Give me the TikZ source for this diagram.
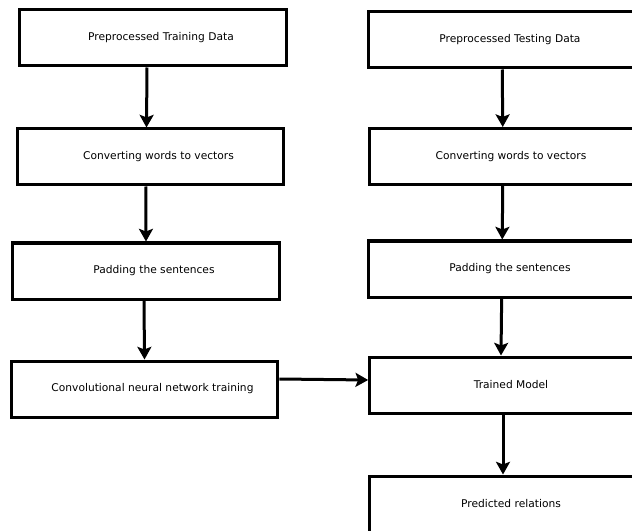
\documentclass[tikz,border=0pt]{standalone}
\usepackage{fontspec}
\setmainfont{DejaVu Sans}
\usetikzlibrary{arrows.meta, positioning}
\tikzset{stage/.style={draw, line width=2.25pt, minimum width=200pt, minimum height=42pt, inner sep=0pt, font=\fontsize{8pt}{9.6pt}\selectfont, execute at begin node={\hspace*{12pt}}}}
\tikzset{flow/.style={line width=2.25pt, -{Stealth[length=9.5pt, width=10.5pt, inset=2pt]}}}

\begin{document}
\begin{tikzpicture}[x=0.75pt, y=-0.75pt]
\useasboundingbox (0,0) rectangle (632,531);
\clip (0,0) rectangle (632,531);
% training side
\node[stage] (trainingdata) at (153,38) {Preprocessed Training Data};
\node[stage] (trainvectors) at (150.5,157) {Converting words to vectors};
\node[stage] (trainpadding) at (146,271) {Padding the sentences};
\node[stage] (cnntraining) at (144.5,389) {Convolutional neural network training};
% testing side
\node[stage] (testingdata) at (502,40) {Preprocessed Testing Data};
\node[stage] (testvectors) at (503,156.5) {Converting words to vectors};
\node[stage] (testpadding) at (502,269) {Padding the sentences};
\node[stage] (trainedmodel) at (503,385) {Trained Model};
\node[stage] (predictions) at (503,504) {Predicted relations};

\draw[flow] ([xshift=-4.5pt]trainingdata.south) -- ([xshift=-3pt]trainvectors.north);
\draw[flow] ([xshift=-3.5pt]trainvectors.south) -- (trainpadding.north);
\draw[flow] ([xshift=-1.5pt]trainpadding.south) -- (cnntraining.north);
\draw[flow] ([yshift=7.5pt]cnntraining.east) -- ([yshift=3.75pt]trainedmodel.west);

\draw[flow] (testingdata) -- (testvectors);
\draw[flow] (testvectors) -- (testpadding);
\draw[flow] (testpadding) -- ([xshift=-1.5pt]trainedmodel.north);
\draw[flow] (trainedmodel) -- (predictions);
\end{tikzpicture}
\end{document}
